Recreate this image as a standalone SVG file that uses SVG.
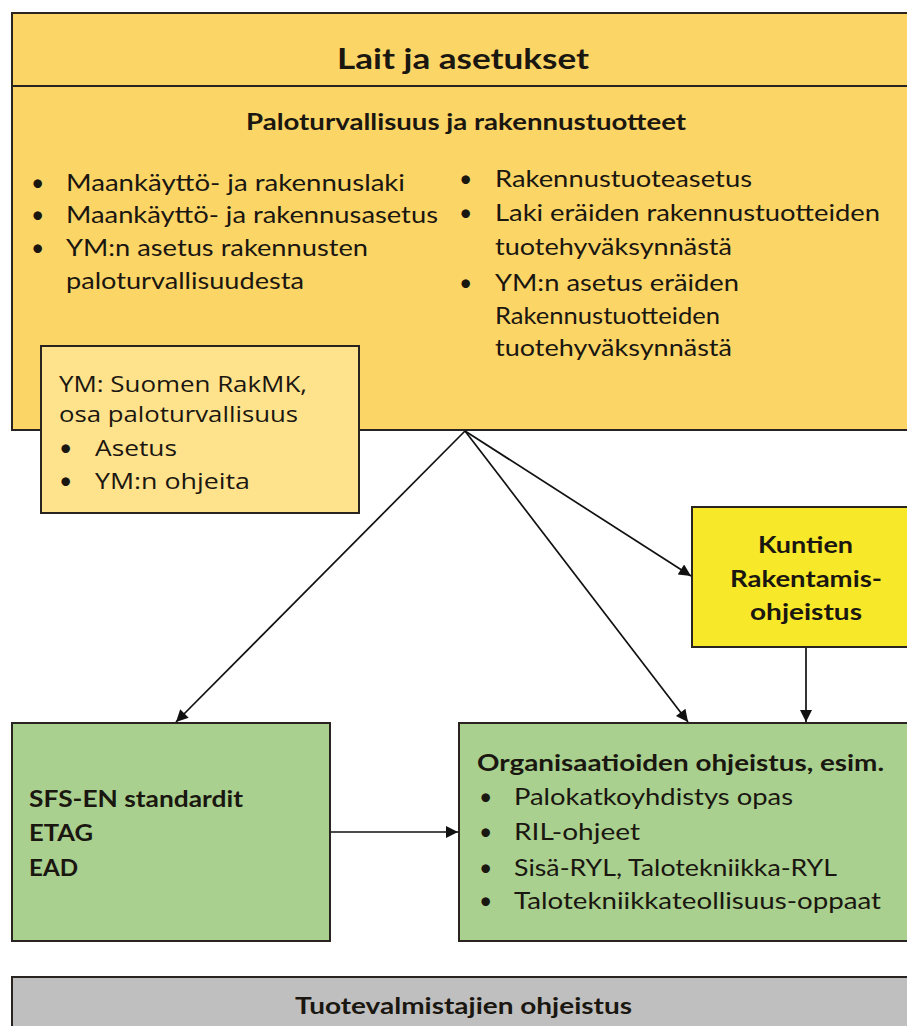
<svg xmlns="http://www.w3.org/2000/svg" width="907" height="1026" viewBox="0 0 907 1026">
<defs>
<style>
.box{stroke:#2a2420;stroke-width:2}
.main{fill:#FCD567}
.ym{fill:#FFE38C}
.kun{fill:#F8E82A}
.grn{fill:#A9D08E}
.gry{fill:#BFBFBF}
text{font-family:Lato,"Liberation Sans",sans-serif;fill:#1a1610}
.b{font-weight:bold}
.t{font-size:23px}
.ymt{font-family:"Open Sans",Lato,sans-serif;font-size:22px}
.bul{font-family:Lato,"Liberation Sans",sans-serif;font-size:23px}
.conn{stroke:#111;stroke-width:1.7;fill:none;marker-end:url(#ah)}
</style>
<marker id="ah" viewBox="0 0 10 10" refX="10" refY="5" markerUnits="userSpaceOnUse" markerWidth="15" markerHeight="12" orient="auto">
<path d="M0,0 L10,5 L0,10 z" fill="#111"/>
</marker>
</defs>
<rect width="907" height="1026" fill="#fff"/>

<g id="lait">
<rect class="box main" x="12" y="13" width="905" height="417"/>
<line x1="12" y1="86" x2="907" y2="86" stroke="#2a2420" stroke-width="2"/>
<text class="b" x="337" y="69" font-size="29" textLength="252" lengthAdjust="spacingAndGlyphs">Lait ja asetukset</text>
<text class="b" x="246" y="130" font-size="22" textLength="440" lengthAdjust="spacingAndGlyphs">Paloturvallisuus ja rakennustuotteet</text>
<g class="t">
<text x="31" y="191">•</text><text x="66" y="191" textLength="339" lengthAdjust="spacingAndGlyphs">Maankäyttö- ja rakennuslaki</text>
<text x="31" y="223">•</text><text x="66" y="223" textLength="372" lengthAdjust="spacingAndGlyphs">Maankäyttö- ja rakennusasetus</text>
<text x="31" y="256">•</text><text x="66" y="256" textLength="302" lengthAdjust="spacingAndGlyphs">YM:n asetus rakennusten</text>
<text x="66" y="289" textLength="238" lengthAdjust="spacingAndGlyphs">paloturvallisuudesta</text>
<text x="459" y="187">•</text><text x="495" y="187" textLength="257" lengthAdjust="spacingAndGlyphs">Rakennustuoteasetus</text>
<text x="459" y="221">•</text><text x="495" y="221" textLength="385" lengthAdjust="spacingAndGlyphs">Laki eräiden rakennustuotteiden</text>
<text x="495" y="255" textLength="237" lengthAdjust="spacingAndGlyphs">tuotehyväksynnästä</text>
<text x="459" y="291">•</text><text x="495" y="291" textLength="244" lengthAdjust="spacingAndGlyphs">YM:n asetus eräiden</text>
<text x="495" y="324" textLength="225" lengthAdjust="spacingAndGlyphs">Rakennustuotteiden</text>
<text x="495" y="356" textLength="237" lengthAdjust="spacingAndGlyphs">tuotehyväksynnästä</text>
</g>
</g>

<g id="ym">
<rect class="box ym" x="41" y="346" width="318" height="167"/>
<text class="ymt" x="59" y="392" textLength="248" lengthAdjust="spacingAndGlyphs">YM: Suomen RakMK,</text>
<text class="ymt" x="59" y="422" textLength="239" lengthAdjust="spacingAndGlyphs">osa paloturvallisuus</text>
<text class="bul" x="59" y="456">•</text><text class="ymt" x="95" y="456" textLength="82" lengthAdjust="spacingAndGlyphs">Asetus</text>
<text class="bul" x="59" y="489">•</text><text class="ymt" x="95" y="489" textLength="155" lengthAdjust="spacingAndGlyphs">YM:n ohjeita</text>
</g>

<g id="kuntien">
<rect class="box kun" x="692" y="507" width="225" height="140"/>
<text class="b" x="758" y="553" font-size="23" textLength="95" lengthAdjust="spacingAndGlyphs">Kuntien</text>
<text class="b" x="730" y="587" font-size="23" textLength="152" lengthAdjust="spacingAndGlyphs">Rakentamis-</text>
<text class="b" x="750" y="620" font-size="23" textLength="112" lengthAdjust="spacingAndGlyphs">ohjeistus</text>
</g>

<g id="standardit">
<rect class="box grn" x="12" y="723" width="318" height="218"/>
<text class="b" x="29" y="807" font-size="23" textLength="214" lengthAdjust="spacingAndGlyphs">SFS-EN standardit</text>
<text class="b" x="29" y="841" font-size="23" textLength="64" lengthAdjust="spacingAndGlyphs">ETAG</text>
<text class="b" x="29" y="876" font-size="23" textLength="49" lengthAdjust="spacingAndGlyphs">EAD</text>
</g>

<g id="organisaatiot">
<rect class="box grn" x="459" y="723" width="460" height="218"/>
<text class="b" x="477" y="771" font-size="23" textLength="407" lengthAdjust="spacingAndGlyphs">Organisaatioiden ohjeistus, esim.</text>
<g class="t">
<text x="479" y="805">•</text><text x="514" y="805" textLength="279" lengthAdjust="spacingAndGlyphs">Palokatkoyhdistys opas</text>
<text x="479" y="840">•</text><text x="514" y="840" textLength="126" lengthAdjust="spacingAndGlyphs">RIL-ohjeet</text>
<text x="479" y="876">•</text><text x="514" y="876" textLength="323" lengthAdjust="spacingAndGlyphs">Sisä-RYL, Talotekniikka-RYL</text>
<text x="479" y="909">•</text><text x="514" y="909" textLength="367" lengthAdjust="spacingAndGlyphs">Talotekniikkateollisuus-oppaat</text>
</g>
</g>

<g id="tuotevalmistajat">
<rect class="box gry" x="12" y="977" width="905" height="60"/>
<text class="b" x="295" y="1014" font-size="23" textLength="337" lengthAdjust="spacingAndGlyphs">Tuotevalmistajien ohjeistus</text>
</g>

<g id="connectors">
<line class="conn" x1="465" y1="431" x2="176" y2="722"/>
<line class="conn" x1="465" y1="431" x2="691" y2="576"/>
<line class="conn" x1="465" y1="431" x2="688" y2="722"/>
<line class="conn" x1="806" y1="648" x2="806" y2="722"/>
<line class="conn" x1="331" y1="832" x2="458" y2="832"/>
</g>
</svg>
